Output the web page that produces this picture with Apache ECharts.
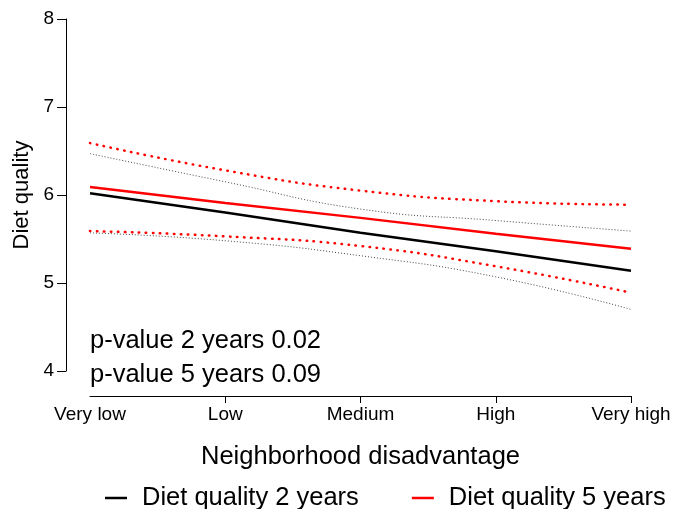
<!DOCTYPE html>
<html>
<head>
<meta charset="utf-8">
<script src="https://cdn.jsdelivr.net/npm/echarts@6/dist/echarts.min.js"></script>
<style>
html,body{margin:0;padding:0;background:#fff;}
#chart{width:675px;height:509px;}
</style>
</head>
<body>
<div id="chart"></div>
<script>
const categories = ['Very low', 'Low', 'Medium', 'High', 'Very high'];
const yTicks = [4, 5, 6, 7, 8];
const diet2 = [6.02, 5.80, 5.57, 5.36, 5.14];
const diet2Upper = [6.47, 6.15, 5.84, 5.71, 5.59];
const diet2Lower = [5.57, 5.48, 5.31, 5.07, 4.70];
const diet5 = [6.09, 5.91, 5.74, 5.56, 5.39];
const diet5Upper = [6.59, 6.28, 6.05, 5.93, 5.89];
const diet5Lower = [5.59, 5.53, 5.42, 5.19, 4.89];
const pTexts = ['p-value 2 years 0.02', 'p-value 5 years 0.09'];

const FONT = 'Liberation Sans, Arial, sans-serif';
const chart = echarts.init(document.getElementById('chart'), null, {renderer: 'canvas'});

const dotRed = {color: '#ff0000', width: 2.5, type: [0.5, 6.5], cap: 'round'};
const dotBlack = {color: '#444', width: 1, type: [1, 2]};

chart.setOption({
  animation: false,
  backgroundColor: '#fff',
  grid: {left: 90, right: 44, top: 19, bottom: 138, containLabel: false},
  legend: {
    data: ['Diet quality 2 years', 'Diet quality 5 years'],
    left: 100, top: 480,
    icon: 'rect', itemWidth: 22, itemHeight: 2.5, itemGap: 53,
    textStyle: {fontFamily: FONT, fontSize: 25.5, color: '#000', padding: [0, 0, 0, 10]}
  },
  xAxis: {
    type: 'category', data: categories, boundaryGap: false, offset: 25,
    name: 'Neighborhood disadvantage', nameLocation: 'middle', nameGap: 48,
    nameTextStyle: {fontFamily: FONT, fontSize: 25.5, color: '#000'},
    axisLine: {lineStyle: {color: '#000', width: 1}},
    axisTick: {show: true, length: 7, inside: false, interval: function (i) { return i !== 0; }, lineStyle: {color: '#000'}},
    axisLabel: {fontFamily: FONT, fontSize: 19, color: '#000', margin: 9, interval: 0},
    splitLine: {show: false}
  },
  yAxis: {
    type: 'value', min: yTicks[0], max: yTicks[yTicks.length - 1], interval: 1, offset: 24,
    name: 'Diet quality', nameLocation: 'middle', nameGap: 32, nameRotate: 90,
    nameTextStyle: {fontFamily: FONT, fontSize: 22, color: '#000'},
    axisLine: {show: true, lineStyle: {color: '#000', width: 1}},
    axisTick: {show: true, length: 9, lineStyle: {color: '#000'}},
    axisLabel: {fontFamily: FONT, fontSize: 19, color: '#000', margin: 12},
    splitLine: {show: false}
  },
  graphic: [
    {type: 'text', left: 90, top: 328, style: {text: pTexts[0], fontFamily: FONT, fontSize: 25.5, fill: '#000'}},
    {type: 'text', left: 90, top: 362, style: {text: pTexts[1], fontFamily: FONT, fontSize: 25.5, fill: '#000'}}
  ],
  series: [
    {name: '2y upper', type: 'line', data: diet2Upper, smooth: true, symbol: 'none', lineStyle: dotBlack, z: 2},
    {name: '2y lower', type: 'line', data: diet2Lower, smooth: true, symbol: 'none', lineStyle: dotBlack, z: 2},
    {name: '5y upper', type: 'line', data: diet5Upper, smooth: true, symbol: 'none', lineStyle: dotRed, z: 3},
    {name: '5y lower', type: 'line', data: diet5Lower, smooth: true, symbol: 'none', lineStyle: dotRed, z: 3},
    {name: 'Diet quality 2 years', type: 'line', data: diet2, symbol: 'none', color: '#000', lineStyle: {color: '#000', width: 2.5}, z: 4},
    {name: 'Diet quality 5 years', type: 'line', data: diet5, symbol: 'none', color: '#ff0000', lineStyle: {color: '#ff0000', width: 2.5}, z: 5}
  ]
});
</script>
</body>
</html>
